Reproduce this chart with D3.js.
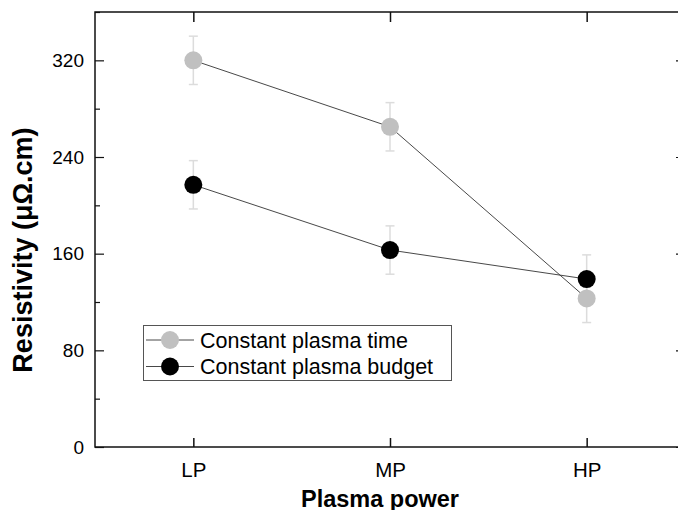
<!DOCTYPE html>
<html>
<head>
<meta charset="utf-8">
<script src="https://cdn.jsdelivr.net/npm/d3@7/dist/d3.min.js"></script>
<style>
  html, body { margin: 0; padding: 0; background: #fff; }
  svg { display: block; font-family: "Liberation Sans", Arial, sans-serif; }
</style>
</head>
<body>
<svg id="chart" width="678" height="510"></svg>
<script>
// Plasma power levels
const categories = ["LP", "MP", "HP"];
// Resistivity (μΩ.cm) for each series
const plasmaTime = [320, 265, 123];
const plasmaBudget = [217, 163, 139];
// Error bar half-widths
const plasmaTimeErr = [20, 20, 20];
const plasmaBudgetErr = [20, 20, 20];
// Y tick labels
const yTicks = [0, 80, 160, 240, 320];
const yMinorTicks = [40, 120, 200, 280, 360];

const series = [
  { name: "Constant plasma time", values: plasmaTime, err: plasmaTimeErr, fill: "#c0c0c0" },
  { name: "Constant plasma budget", values: plasmaBudget, err: plasmaBudgetErr, fill: "#000000" }
];

const svg = d3.select("#chart");
const plot = { left: 95, right: 685, top: 12, bottom: 447 };

const x = d3.scalePoint().domain(categories).range([plot.left, plot.right]).padding(0.5);
const y = d3.scaleLinear().domain([0, 360]).range([plot.bottom, plot.top]);

const axisColor = "#111";

// Frame
svg.append("rect")
  .attr("x", plot.left).attr("y", plot.top)
  .attr("width", plot.right - plot.left).attr("height", plot.bottom - plot.top)
  .attr("fill", "none").attr("stroke", axisColor).attr("stroke-width", 1.5);

// Bottom axis (ticks pointing inward)
const xBottom = svg.append("g").attr("transform", `translate(0,${plot.bottom})`)
  .call(d3.axisBottom(x).tickSizeInner(-9).tickSizeOuter(0).tickPadding(15));
xBottom.select(".domain").remove();
xBottom.selectAll("line").attr("stroke", axisColor).attr("stroke-width", 1.5);
xBottom.selectAll("text").attr("font-size", 20.5).attr("fill", "#000").attr("dy", "0.71em");

// Top axis ticks
const xTop = svg.append("g").attr("transform", `translate(0,${plot.top})`)
  .call(d3.axisTop(x).tickSizeInner(-10).tickSizeOuter(0).tickFormat(""));
xTop.select(".domain").remove();
xTop.selectAll("line").attr("stroke", axisColor).attr("stroke-width", 1.5);

// Left axis
const yLeft = svg.append("g").attr("transform", `translate(${plot.left},0)`)
  .call(d3.axisLeft(y).tickValues(yTicks).tickSizeInner(-9).tickSizeOuter(0).tickPadding(11));
yLeft.select(".domain").remove();
yLeft.selectAll("line").attr("stroke", axisColor).attr("stroke-width", 1.2);
yLeft.selectAll("text").attr("font-size", 19).attr("fill", "#000");

const yLeftMinor = svg.append("g").attr("transform", `translate(${plot.left},0)`)
  .call(d3.axisLeft(y).tickValues(yMinorTicks).tickSizeInner(-5).tickSizeOuter(0).tickFormat(""));
yLeftMinor.select(".domain").remove();
yLeftMinor.selectAll("line").attr("stroke", axisColor).attr("stroke-width", 1.2);

// Right axis ticks
const yRight = svg.append("g").attr("transform", `translate(${plot.right},0)`)
  .call(d3.axisRight(y).tickValues(yTicks).tickSizeInner(-9).tickSizeOuter(0).tickFormat(""));
yRight.select(".domain").remove();
yRight.selectAll("line").attr("stroke", axisColor).attr("stroke-width", 1.2);

// Error bars
const capW = 4.5;
series.forEach(s => {
  const g = svg.append("g").attr("stroke", "#dcdcdc").attr("stroke-width", 1.5);
  categories.forEach((c, i) => {
    const cx = x(c), y1 = y(s.values[i] + s.err[i]), y2 = y(s.values[i] - s.err[i]);
    g.append("line").attr("x1", cx).attr("x2", cx).attr("y1", y1).attr("y2", y2);
    g.append("line").attr("x1", cx - capW).attr("x2", cx + capW).attr("y1", y1).attr("y2", y1);
    g.append("line").attr("x1", cx - capW).attr("x2", cx + capW).attr("y1", y2).attr("y2", y2);
  });
});

// Connecting lines
const line = d3.line().x((d, i) => x(categories[i])).y(d => y(d));
series.forEach(s => {
  svg.append("path").datum(s.values)
    .attr("d", line).attr("fill", "none")
    .attr("stroke", "#333").attr("stroke-width", 0.9);
});

// Markers
series.forEach(s => {
  svg.append("g").selectAll("circle").data(s.values).join("circle")
    .attr("cx", (d, i) => x(categories[i]))
    .attr("cy", d => y(d))
    .attr("r", 9)
    .attr("fill", s.fill);
});

// Legend
const legend = svg.append("g");
legend.append("rect")
  .attr("x", 143.5).attr("y", 325.5).attr("width", 308).attr("height", 55)
  .attr("fill", "#fff").attr("stroke", "#555").attr("stroke-width", 1);
series.forEach((s, i) => {
  const ly = 340 + i * 26.5;
  legend.append("line").attr("x1", 146).attr("x2", 194).attr("y1", ly).attr("y2", ly)
    .attr("stroke", "#333").attr("stroke-width", 0.9);
  legend.append("circle").attr("cx", 170).attr("cy", ly).attr("r", 9).attr("fill", s.fill);
  legend.append("text").attr("x", 200).attr("y", ly).attr("dy", "0.36em")
    .attr("font-size", 21.5).attr("fill", "#000").text(s.name);
});

// Axis titles
svg.append("text")
  .attr("x", (plot.left + plot.right) / 2 - 10).attr("y", 507)
  .attr("text-anchor", "middle").attr("font-size", 23.5).attr("font-weight", "bold")
  .text("Plasma power");

svg.append("text")
  .attr("transform", "translate(32,250) rotate(-90)")
  .attr("text-anchor", "middle").attr("font-size", 27).attr("font-weight", "bold")
  .text("Resistivity (μΩ.cm)");
</script>
</body>
</html>
